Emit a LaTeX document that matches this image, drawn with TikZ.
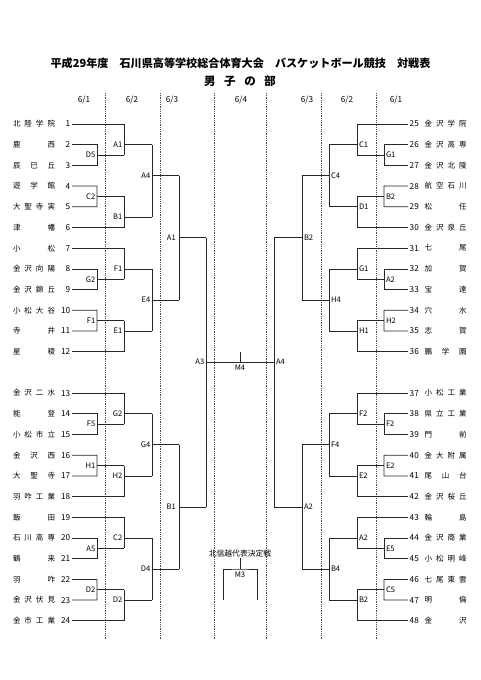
\documentclass[tikz,border=0pt]{standalone}
\usepackage{fontspec}
\setmainfont{Noto Sans CJK JP}
\tikzset{
  br/.style={line width=0.75pt, draw=black!85},
  dl/.style={line width=0.5pt, draw=black!70, dash pattern=on 1pt off 0.8pt},
  tnm/.style={inner sep=0pt, font=\fontsize{7.5}{9}\selectfont},
  tno/.style={inner sep=1.5pt, font=\fontsize{8.2}{9}\selectfont},
  lbL/.style={anchor=east, inner sep=0pt, xshift=-1.5pt, font=\fontsize{7.6}{9}\selectfont},
  lbR/.style={anchor=west, inner sep=0pt, xshift=1.8pt, font=\fontsize{7.6}{9}\selectfont},
  dt/.style={inner sep=0pt, font=\fontsize{8.2}{9}\selectfont},
}
% #1 first team no, #2 row index, #3..#7 labels, #8 override y of 2nd round-2 output
\newcommand\bblock[8]{%
  \pgfmathsetmacro\bbya{124+(#2)*20.7}%
  \pgfmathsetmacro\bbyb{\bbya+20.7}%
  \pgfmathsetmacro\bbyc{\bbya+41.4}%
  \pgfmathsetmacro\bbyd{\bbya+62.1}%
  \pgfmathsetmacro\bbye{\bbya+82.8}%
  \pgfmathsetmacro\bbyf{\bbya+103.5}%
  \pgfmathsetmacro\bbybc{(\bbyb+\bbyc)/2}%
  \pgfmathsetmacro\bbyde{(\bbyd+\bbye)/2}%
  \pgfmathsetmacro\bbym{(\bbyb+\bbye)/2}%
  \ifx\relax#8\relax \let\bbyo\bbye \else \def\bbyo{#8}\fi
  \pgfmathtruncatemacro\bbA{#1}%
  \pgfmathtruncatemacro\bbB{#1+1}%
  \pgfmathtruncatemacro\bbC{#1+2}%
  \pgfmathtruncatemacro\bbD{#1+3}%
  \pgfmathtruncatemacro\bbE{#1+4}%
  \pgfmathtruncatemacro\bbF{#1+5}%
  \draw[br] (n\bbA.\bban) -| (\bbXb,\bbybc);
  \draw[br] (n\bbB.\bban) -| (\bbXa,\bbyc) -- (n\bbC.\bban);
  \draw[br] (\bbXa,\bbybc) -- (\bbXb,\bbybc);
  \node[\bblb] at (\bbXa,\bbybc) {#3};
  \draw[br] (\bbXb,\bbyb) -- (\bbXc,\bbyb);
  \node[\bblb] at (\bbXb,\bbyb) {#4};
  \draw[br] (n\bbD.\bban) -| (\bbXa,\bbye) -- (n\bbE.\bban);
  \draw[br] (\bbXa,\bbyde) -- (\bbXb,\bbyde);
  \node[\bblb] at (\bbXa,\bbyde) {#5};
  \draw[br] (n\bbF.\bban) -| (\bbXb,\bbyde);
  \draw[br] (\bbXb,\bbyo) -- (\bbXc,\bbyo);
  \node[\bblb] at (\bbXb,\bbyo) {#6};
  \draw[br] (\bbXc,\bbyb) -- (\bbXc,\bbyo);
  \draw[br] (\bbXc,\bbym) -- (\bbXd,\bbym);
  \node[\bblb] at (\bbXc,\bbym) {#7};
}
\newcommand\sideL{\def\bbXa{97}\def\bbXb{124}\def\bbXc{152}\def\bbXd{179}\def\bban{east}\def\bblb{lbL}}
\newcommand\sideR{\def\bbXa{384}\def\bbXb{357}\def\bbXc{329}\def\bbXd{302}\def\bban{west}\def\bblb{lbR}}
\begin{document}
\begin{tikzpicture}[x=1pt,y=-1pt]
\useasboundingbox (0,0) rectangle (481,680);
\fill[white] (0,0) rectangle (481,680);
% titles
\node[inner sep=0pt, font=\fontsize{11.1}{13}\selectfont\bfseries] (title) at (240.5,63)
  {平成29年度　石川県高等学校総合体育大会　バスケットボール競技　対戦表};
\node[inner sep=0pt, font=\fontsize{11.5}{13}\selectfont\bfseries] (sub) at (240,81)
  {男\hspace{0.75em}子\hspace{0.75em}の\hspace{0.75em}部};
% dates
\node[dt] (d1) at (84,100) {6/1};
\node[dt] (d2) at (132,100) {6/2};
\node[dt] (d3) at (172,100) {6/3};
\node[dt] (d4) at (241,100) {6/4};
\node[dt] (d5) at (307,100) {6/3};
\node[dt] (d6) at (347,100) {6/2};
\node[dt] (d7) at (396,100) {6/1};
% dashed column lines
\foreach \x in {105,160,214,266,321,376} \draw[dl] (\x,93) -- (\x,640);
% left teams
\foreach \k/\r/\nm in {
  1/0/{北\hfil 陸\hfil 学\hfil 院}, 2/1/{鹿\hfil 西}, 3/2/{辰\hfil 巳\hfil 丘},
  4/3/{遊\hfil 学\hfil 館}, 5/4/{大\hfil 聖\hfil 寺\hfil 実}, 6/5/{津\hfil 幡},
  7/6/{小\hfil 松}, 8/7/{金\hfil 沢\hfil 向\hfil 陽}, 9/8/{金\hfil 沢\hfil 錦\hfil 丘},
  10/9/{小\hfil 松\hfil 大\hfil 谷}, 11/10/{寺\hfil 井}, 12/11/{星\hfil 稜},
  13/13/{金\hfil 沢\hfil 二\hfil 水}, 14/14/{能\hfil 登}, 15/15/{小\hfil 松\hfil 市\hfil 立},
  16/16/{金\hfil 沢\hfil 西}, 17/17/{大\hfil 聖\hfil 寺}, 18/18/{羽\hfil 咋\hfil 工\hfil 業},
  19/19/{飯\hfil 田}, 20/20/{石\hfil 川\hfil 高\hfil 専}, 21/21/{鶴\hfil 来},
  22/22/{羽\hfil 咋}, 23/23/{金\hfil 沢\hfil 伏\hfil 見}, 24/24/{金\hfil 市\hfil 工\hfil 業}}{
  \node[tnm] (t\k) at (34,{124+\r*20.7}) {\makebox[42pt][s]{\nm}};
  \node[tno, anchor=east] (n\k) at (72,{124+\r*20.7}) {\k};
}
% right teams
\foreach \k/\r/\nm in {
  25/0/{金\hfil 沢\hfil 学\hfil 院}, 26/1/{金\hfil 沢\hfil 高\hfil 専}, 27/2/{金\hfil 沢\hfil 北\hfil 陵},
  28/3/{航\hfil 空\hfil 石\hfil 川}, 29/4/{松\hfil 任}, 30/5/{金\hfil 沢\hfil 泉\hfil 丘},
  31/6/{七\hfil 尾}, 32/7/{加\hfil 賀}, 33/8/{宝\hfil 達},
  34/9/{穴\hfil 水}, 35/10/{志\hfil 賀}, 36/11/{鵬\hfil 学\hfil 園},
  37/13/{小\hfil 松\hfil 工\hfil 業}, 38/14/{県\hfil 立\hfil 工\hfil 業}, 39/15/{門\hfil 前},
  40/16/{金\hfil 大\hfil 附\hfil 属}, 41/17/{尾\hfil 山\hfil 台}, 42/18/{金\hfil 沢\hfil 桜\hfil 丘},
  43/19/{輪\hfil 島}, 44/20/{金\hfil 沢\hfil 商\hfil 業}, 45/21/{小\hfil 松\hfil 明\hfil 峰},
  46/22/{七\hfil 尾\hfil 東\hfil 雲}, 47/23/{明\hfil 倫}, 48/24/{金\hfil 沢}}{
  \node[tnm] (t\k) at (445.5,{124+\r*20.7}) {\makebox[42pt][s]{\nm}};
  \node[tno, anchor=west] (n\k) at (408,{124+\r*20.7}) {\k};
}
% blocks
\sideL
\bblock{1}{0}{D5}{A1}{C2}{B1}{A4}{217}
\bblock{7}{6}{G2}{F1}{F1}{E1}{E4}{}
\bblock{13}{13}{F5}{G2}{H1}{H2}{G4}{}
\bblock{19}{19}{A5}{C2}{D2}{D2}{D4}{}
\sideR
\bblock{25}{0}{G1}{C1}{B2}{D1}{C4}{}
\bblock{31}{6}{A2}{G1}{H2}{H1}{H4}{}
\bblock{37}{13}{F2}{F2}{E2}{E2}{F4}{}
\bblock{43}{19}{E5}{A2}{C5}{B2}{B4}{}
% round 3 (6/3)
\coordinate (L3a) at (206,{124+5.5*20.7});
\coordinate (L3b) at (206,{124+18.5*20.7});
\coordinate (R3a) at (274,{124+5.5*20.7});
\coordinate (R3b) at (274,{124+18.5*20.7});
\draw[br] (179,{124+2.5*20.7}) -- (179,{124+8.5*20.7});
\draw[br] (179,{124+5.5*20.7}) -- (L3a);
\node[lbL, xshift=-1.5pt] (lA1) at (179,{124+5.5*20.7}) {A1};
\draw[br] (179,{124+15.5*20.7}) -- (179,{124+21.5*20.7});
\draw[br] (179,{124+18.5*20.7}) -- (L3b);
\node[lbL, xshift=-1.5pt] (lB1) at (179,{124+18.5*20.7}) {B1};
\draw[br] (302,{124+2.5*20.7}) -- (302,{124+8.5*20.7});
\draw[br] (302,{124+5.5*20.7}) -- (R3a);
\node[lbR] (lB2) at (302,{124+5.5*20.7}) {B2};
\draw[br] (302,{124+15.5*20.7}) -- (302,{124+21.5*20.7});
\draw[br] (302,{124+18.5*20.7}) -- (R3b);
\node[lbR] (lA2) at (302,{124+18.5*20.7}) {A2};
% final
\coordinate (FL) at (206,362);
\coordinate (FR) at (274,362);
\coordinate (FM) at (240,362);
\coordinate (FT) at (240,352);
\draw[br] (L3a) -- (L3b);
\draw[br] (R3a) -- (R3b);
\draw[br] (FL) -- (FR);
\draw[br] (FM) -- (FT);
\node[lbL] (lA3) at (FL) {A3};
\node[lbR] (lA4) at (FR) {A4};
\node[inner sep=0pt, font=\fontsize{7.6}{9}\selectfont] (lM4) at (240,367.5) {M4};
% Hokushinetsu play-off
\node[inner sep=0pt, font=\fontsize{7.8}{9}\selectfont] (hk) at (240,554) {北信越代表決定戦};
\coordinate (M3t) at (240,569);
\coordinate (M3l) at (223,600);
\coordinate (M3r) at (257,600);
\draw[br] (hk.south) -- (M3t);
\draw[br] (M3l) |- (M3t) -| (M3r);
\node[inner sep=0pt, font=\fontsize{7.6}{9}\selectfont] (lM3) at (240,574.5) {M3};
\end{tikzpicture}
\end{document}
